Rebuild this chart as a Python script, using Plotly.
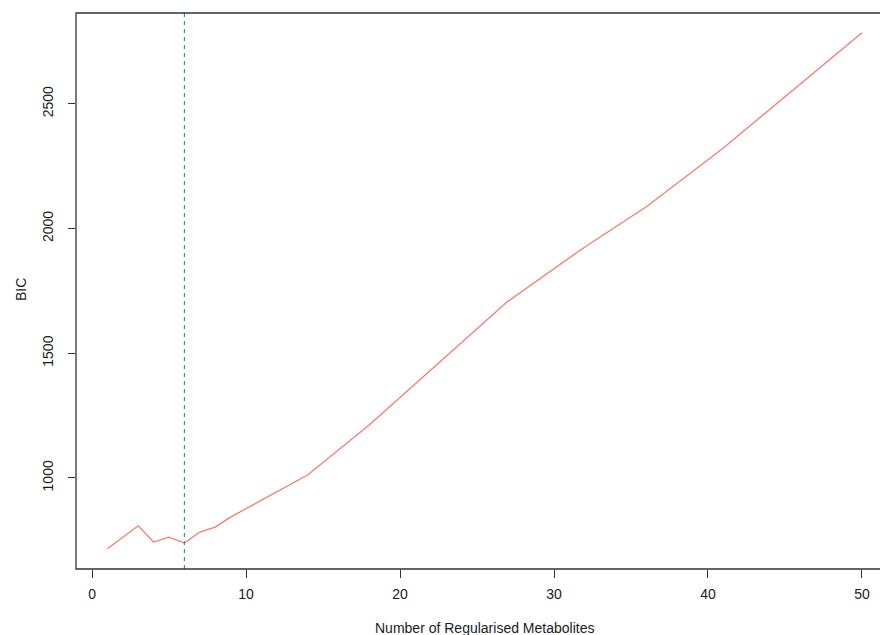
import plotly.graph_objects as go

# Data
n_metabolites = [1, 3, 4, 5, 6, 7, 8, 9, 14, 18, 27, 32, 36, 41, 50]
bic_values = [716, 808, 743, 763, 739, 783, 803, 843, 1012, 1212, 1708, 1926, 2087, 2323, 2785]
selected_n = 6
x_ticks = [0, 10, 20, 30, 40, 50]
y_ticks = [1000, 1500, 2000, 2500]

FONT = "Liberation Sans, Arial, sans-serif"
TXT = "#1a1a1a"

fig = go.Figure()
fig.add_trace(go.Scatter(x=n_metabolites, y=bic_values, mode="lines",
                         line=dict(color="#F47C70", width=1.3), hoverinfo="x+y",
                         showlegend=False))
fig.add_shape(type="line", xref="x", yref="paper", x0=selected_n, x1=selected_n, y0=0, y1=1,
              line=dict(color="#1E9A9A", width=1.2, dash="4px,4px"))
# plot box (right edge falls outside the visible canvas)
fig.add_shape(type="rect", xref="paper", yref="paper", x0=0, x1=1.05, y0=0, y1=1,
              line=dict(color="#333333", width=1.3), fillcolor="rgba(0,0,0,0)")

fig.update_layout(
    width=880, height=635,
    margin=dict(l=76, r=0, t=13, b=66),
    plot_bgcolor="white", paper_bgcolor="white",
    font=dict(family=FONT, size=14, color=TXT),
    xaxis=dict(range=[-1.04, 51.17], tickvals=x_ticks, ticks="outside", ticklen=8,
               tickcolor="#333333", showgrid=False, zeroline=False, showline=False,
               tickfont=dict(size=14, color=TXT), ticklabelstandoff=4),
    yaxis=dict(range=[635, 2864], tickvals=y_ticks, ticks="outside", ticklen=7,
               tickcolor="#333333", showgrid=False, zeroline=False, showline=False,
               tickangle=-90, tickfont=dict(size=14, color=TXT), ticklabelstandoff=9),
    annotations=[
        dict(text="Number of Regularised Metabolites", xref="paper", yref="paper",
             x=(484 - 76) / 804, y=(569 - 628) / 556, xanchor="center", yanchor="middle",
             showarrow=False, font=dict(size=14, color=TXT)),
        dict(text="BIC", xref="paper", yref="paper", textangle=-90,
             x=(21 - 76) / 804, y=(569 - 290) / 556, xanchor="center", yanchor="middle",
             showarrow=False, font=dict(size=14, color=TXT)),
    ],
)

fig.write_html("out.html")
